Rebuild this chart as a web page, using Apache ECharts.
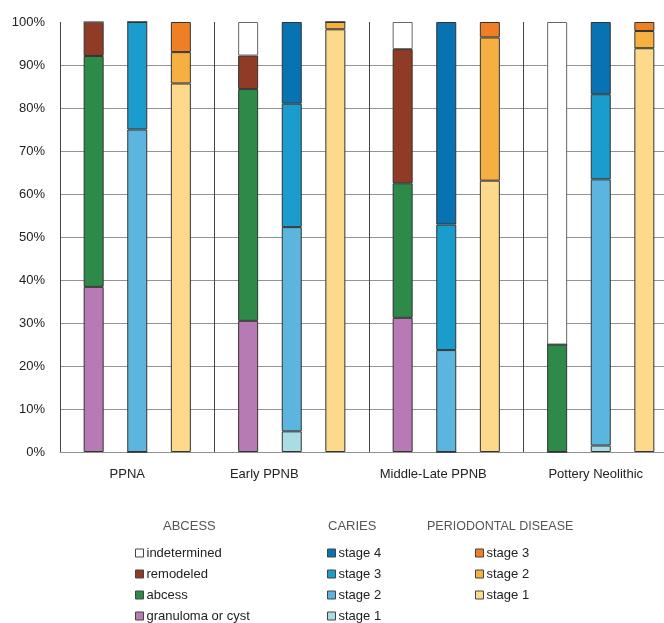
<!DOCTYPE html>
<html>
<head>
<meta charset="utf-8">
<script src="https://cdn.jsdelivr.net/npm/echarts@6/dist/echarts.min.js"></script>
<style>
html,body{margin:0;padding:0;background:#fff;}
#chart{width:664px;height:623px;}
</style>
</head>
<body>
<div id="chart"></div>
<script>
const categories = ['PPNA', 'Early PPNB', 'Middle-Late PPNB', 'Pottery Neolithic'];
const yTicks = [0, 10, 20, 30, 40, 50, 60, 70, 80, 90, 100];

// ABCESS (bottom to top)
const abscessGranuloma    = [38.4, 30.5, 31.2, 0];
const abscessAbscess      = [53.7, 53.9, 31.3, 25.0];
const abscessRemodeled    = [7.9, 7.8, 31.2, 0];
const abscessIndetermined = [0, 7.8, 6.3, 75.0];

// CARIES (bottom to top)
const cariesStage1 = [0, 4.8, 0, 1.5];
const cariesStage2 = [75.0, 47.5, 23.7, 61.9];
const cariesStage3 = [25.0, 28.7, 29.2, 19.8];
const cariesStage4 = [0, 19.0, 47.1, 16.8];

// PERIODONTAL DISEASE (bottom to top)
const perioStage1 = [85.7, 98.3, 63.1, 93.9];
const perioStage2 = [7.3, 1.7, 33.3, 4.0];
const perioStage3 = [7.0, 0, 3.6, 2.1];

const FONT = '"Liberation Sans", Arial, Helvetica, sans-serif';

function bar(name, stack, data, color, border) {
  return {
    name: name, type: 'bar', stack: stack, data: data,
    barWidth: 20, barGap: '118%',
    itemStyle: { color: color, borderColor: border || '#333', borderWidth: 1 },
    emphasis: { disabled: true }
  };
}

const series = [
  bar('granuloma or cyst', 'abs', abscessGranuloma, '#b77ab5'),
  bar('abcess', 'abs', abscessAbscess, '#2e8a48'),
  bar('remodeled', 'abs', abscessRemodeled, '#8f3b26'),
  bar('indetermined', 'abs', abscessIndetermined, '#ffffff', '#666'),
  bar('caries stage 1', 'car', cariesStage1, '#a9dde3'),
  bar('caries stage 2', 'car', cariesStage2, '#5bb5de'),
  bar('caries stage 3', 'car', cariesStage3, '#1a9ccc'),
  bar('caries stage 4', 'car', cariesStage4, '#0773b2'),
  bar('periodontal stage 1', 'per', perioStage1, '#fdd98c'),
  bar('periodontal stage 2', 'per', perioStage2, '#f6b042'),
  bar('periodontal stage 3', 'per', perioStage3, '#ee7f24')
];

const labelShift = [20, 55, 26, 10];

function legend(left, data) {
  return {
    orient: 'vertical', left: left, top: 546, height: 120, padding: 0,
    data: data, icon: 'rect', itemWidth: 8, itemHeight: 8, itemGap: 7,
    selectedMode: false,
    itemStyle: { borderColor: '#444', borderWidth: 1 },
    textStyle: { fontSize: 13, color: '#222', fontFamily: FONT, lineHeight: 14, padding: [0, 0, 0, -2] },
    formatter: function (n) { return n.replace(/^(caries|periodontal) /, ''); }
  };
}

function rich(i) {
  return { padding: [0, labelShift[i], 0, 0], fontSize: 13, fontFamily: FONT, color: '#222' };
}

const chart = echarts.init(document.getElementById('chart'), null, { renderer: 'canvas' });
chart.setOption({
  animation: false,
  backgroundColor: '#ffffff',
  grid: { left: 60, top: 22, width: 618, height: 430, containLabel: false, outerBoundsMode: 'none' },
  xAxis: {
    type: 'category', data: categories, boundaryGap: true,
    axisLine: { show: true, lineStyle: { color: '#909090', width: 1 } },
    axisTick: { show: false },
    splitLine: { show: true, interval: 0, lineStyle: { color: '#444', width: 1 } },
    axisLabel: {
      interval: 0, hideOverlap: false,
      margin: 16, color: '#222', fontSize: 13, fontFamily: FONT,
      formatter: function (v, i) { return '{c' + i + '|' + v + '}'; },
      rich: { c0: rich(0), c1: rich(1), c2: rich(2), c3: rich(3) }
    }
  },
  yAxis: {
    type: 'value', min: yTicks[0], max: yTicks[yTicks.length - 1], interval: yTicks[1] - yTicks[0],
    axisLine: { show: false }, axisTick: { show: false },
    splitLine: { show: true, showMaxLine: false, lineStyle: { color: '#939393', width: 1.2 } },
    axisLabel: { formatter: '{value}%', color: '#222', fontSize: 13, fontFamily: FONT, margin: 15 }
  },
  legend: [
    legend(135, ['indetermined', 'remodeled', 'abcess', 'granuloma or cyst']),
    legend(327, ['caries stage 4', 'caries stage 3', 'caries stage 2', 'caries stage 1']),
    legend(475, ['periodontal stage 3', 'periodontal stage 2', 'periodontal stage 1'])
  ],
  graphic: [
    { type: 'text', left: 163, top: 520, style: { text: 'ABCESS', fontSize: 13, fill: '#555', fontFamily: FONT } },
    { type: 'text', left: 328, top: 520, style: { text: 'CARIES', fontSize: 13, fill: '#555', fontFamily: FONT } },
    { type: 'text', left: 427, top: 520, style: { text: 'PERIODONTAL DISEASE', fontSize: 12.5, fill: '#555', fontFamily: FONT } }
  ],
  series: series
});
</script>
</body>
</html>
